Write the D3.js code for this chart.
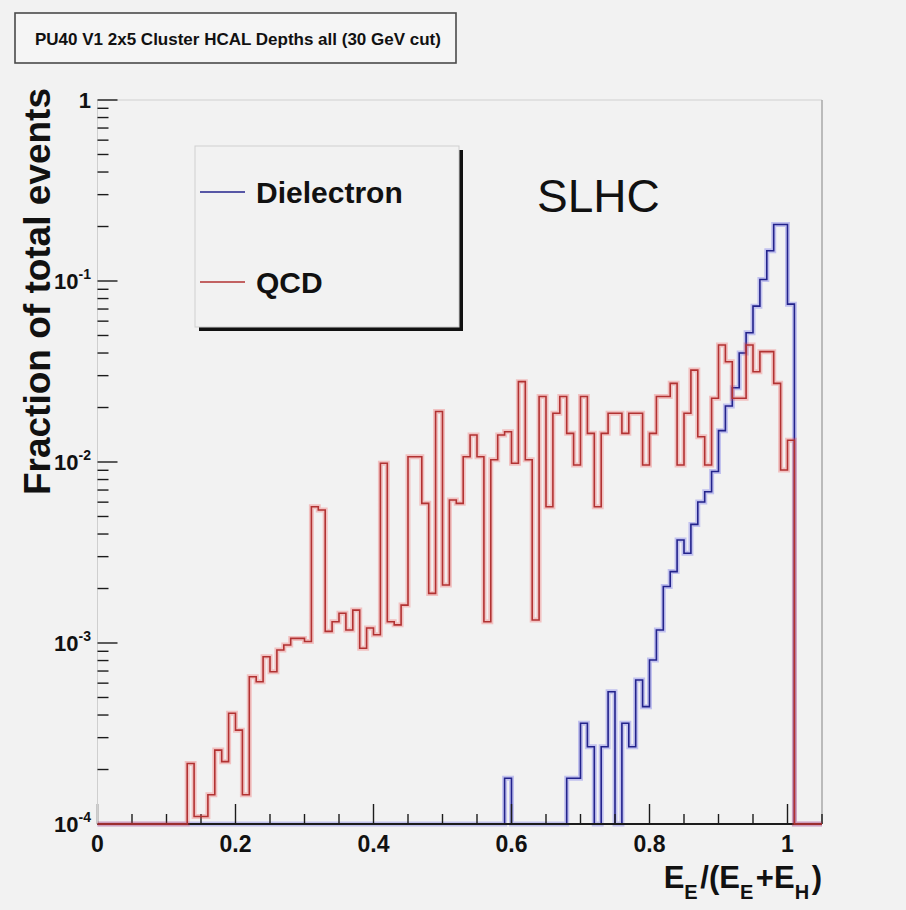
<!DOCTYPE html>
<html>
<head>
<meta charset="utf-8">
<script src="https://cdn.jsdelivr.net/npm/d3@7"></script>
<style>
  body { margin: 0; background: #f2f2f2; }
  svg text { font-family: "Liberation Sans", Arial, sans-serif; }
</style>
</head>
<body>
<div id="chart"></div>
<script>
// Histogram binning: 105 bins of 0.01 from 0 to 1.05
const binWidth = 0.01;
const nBins = 105;

// QCD fractions, first non-empty bin starts at 0.13
const qcdStart = 0.13;
const qcdValues = [
  2.16e-4, 1.10e-4, 1.10e-4, 1.45e-4, 2.56e-4, 2.21e-4, 4.09e-4, 3.30e-4, 1.45e-4, 6.51e-4,
  6.11e-4, 8.40e-4, 6.94e-4, 9.15e-4, 9.75e-4, 1.06e-3, 1.06e-3, 1.02e-3, 5.66e-3, 5.43e-3,
  1.16e-3, 1.31e-3, 1.46e-3, 1.18e-3, 1.52e-3, 9.35e-4, 1.21e-3, 1.11e-3, 9.84e-3, 1.31e-3,
  1.26e-3, 1.62e-3, 1.07e-2, 1.07e-2, 5.91e-3, 1.88e-3, 1.90e-2, 2.09e-3, 6.17e-3, 5.91e-3,
  1.07e-2, 1.41e-2, 1.07e-2, 1.31e-3, 1.03e-2, 1.41e-2, 1.47e-2, 9.84e-3, 2.78e-2, 1.03e-2,
  1.34e-3, 2.30e-2, 5.66e-3, 1.86e-2, 2.30e-2, 1.44e-2, 9.62e-3, 2.30e-2, 1.44e-2, 5.66e-3,
  1.44e-2, 1.86e-2, 1.86e-2, 1.44e-2, 1.86e-2, 1.86e-2, 9.62e-3, 1.44e-2, 2.30e-2, 2.30e-2,
  2.72e-2, 9.62e-3, 1.86e-2, 3.22e-2, 1.38e-2, 9.62e-3, 2.25e-2, 4.43e-2, 3.58e-2, 2.25e-2,
  2.25e-2, 4.43e-2, 3.15e-2, 4.07e-2, 4.07e-2, 2.72e-2, 9.03e-3, 1.32e-2
];

// Dielectron fractions, first non-empty bin starts at 0.59
const dielectronStart = 0.59;
const dielectronValues = [
  1.79e-4, 0, 0, 0, 0, 0, 0, 0, 0, 1.79e-4,
  1.79e-4, 3.60e-4, 2.67e-4, 0, 2.67e-4, 5.38e-4, 0, 3.60e-4, 2.67e-4, 6.25e-4,
  4.45e-4, 8.05e-4, 1.18e-3, 2.05e-3, 2.48e-3, 3.71e-3, 3.13e-3, 4.52e-3, 6.01e-3, 6.85e-3,
  8.87e-3, 1.49e-2, 2.04e-2, 2.57e-2, 4.00e-2, 5.18e-2, 7.26e-2, 0.102, 0.147, 0.205,
  0.205, 0.0745
];

// Axis ticks and labels
const xMajorTicks = [0, 0.2, 0.4, 0.6, 0.8, 1.0];
const xMinorTicks = [0.05, 0.1, 0.15, 0.25, 0.3, 0.35, 0.45, 0.5, 0.55, 0.65, 0.7, 0.75, 0.85, 0.9, 0.95, 1.05];
const xTickLabels = ["0", "0.2", "0.4", "0.6", "0.8", "1"];
const yDecades = [-4, -3, -2, -1, 0];
const yMinorMantissas = [2, 3, 4, 5, 6, 7, 8, 9];

const legendNames = ["Dielectron", "QCD"];
const colors = { Dielectron: "#23238c", QCD: "#b23232" };
const halos = { Dielectron: "rgba(70, 70, 230, 0.28)", QCD: "rgba(240, 70, 70, 0.28)" };

// Create the svg
const svg = d3.select("#chart")
  .append("svg")
  .attr("width", 906)
  .attr("height", 910);

svg.append("rect")
  .attr("width", 906)
  .attr("height", 910)
  .attr("fill", "#f2f2f2");

// Frame
const frame = { left: 97.5, right: 822, top: 100, bottom: 824 };

const x = d3.scaleLinear()
  .domain([0, nBins * binWidth])
  .range([frame.left, frame.right]);

const y = d3.scaleLog()
  .domain([1e-4, 1])
  .range([frame.bottom, frame.top])
  .clamp(true);

// Full histogram contents, zero outside the filled range
function fillHist(start, values) {
  const h = new Array(nBins).fill(0);
  const i0 = Math.round(start / binWidth);
  values.forEach((v, i) => { h[i0 + i] = v; });
  return h;
}

// Step outline: each bin gives a flat segment, empty bins sit on the frame bottom
function stepPoints(hist) {
  const pts = [];
  hist.forEach((v, i) => {
    pts.push([i * binWidth, v]);
    pts.push([(i + 1) * binWidth, v]);
  });
  return pts;
}

const line = d3.line()
  .x(d => x(d[0]))
  .y(d => y(Math.max(d[1], 1e-4)));

function drawHist(name, hist) {
  const g = svg.append("g");
  g.append("path")
    .attr("d", line(stepPoints(hist)))
    .attr("fill", "none")
    .attr("stroke", halos[name])
    .attr("stroke-width", 5);
  g.append("path")
    .attr("d", line(stepPoints(hist)))
    .attr("fill", "none")
    .attr("stroke", colors[name])
    .attr("stroke-width", 1.6);
}

// Frame border (light)
svg.append("line")
  .attr("x1", frame.left).attr("x2", frame.right)
  .attr("y1", frame.top).attr("y2", frame.top)
  .attr("stroke", "#d0d0d0").attr("stroke-width", 1);
svg.append("line")
  .attr("x1", frame.right).attr("x2", frame.right)
  .attr("y1", frame.top).attr("y2", frame.bottom)
  .attr("stroke", "#a8a8a8").attr("stroke-width", 1.5);

// Dielectron first, then the axes, then QCD on top
drawHist("Dielectron", fillHist(dielectronStart, dielectronValues));

// X axis
const axisColor = "#1c1c1c";
svg.append("line")
  .attr("x1", frame.left).attr("x2", frame.right)
  .attr("y1", frame.bottom).attr("y2", frame.bottom)
  .attr("stroke", axisColor).attr("stroke-width", 1.8);

svg.append("g").selectAll("line")
  .data(xMajorTicks)
  .enter()
  .append("line")
  .attr("x1", d => x(d)).attr("x2", d => x(d))
  .attr("y1", frame.bottom).attr("y2", frame.bottom - 20)
  .attr("stroke", axisColor).attr("stroke-width", 1.4);

svg.append("g").selectAll("line")
  .data(xMinorTicks)
  .enter()
  .append("line")
  .attr("x1", d => x(d)).attr("x2", d => x(d))
  .attr("y1", frame.bottom).attr("y2", frame.bottom - 10)
  .attr("stroke", axisColor).attr("stroke-width", 1.4);

svg.append("g").selectAll("text")
  .data(xMajorTicks)
  .enter()
  .append("text")
  .attr("x", d => x(d))
  .attr("y", 852)
  .attr("text-anchor", "middle")
  .attr("font-size", 23)
  .attr("font-weight", "bold")
  .attr("fill", "#111")
  .text((d, i) => xTickLabels[i]);

// Y axis
svg.append("line")
  .attr("x1", frame.left).attr("x2", frame.left)
  .attr("y1", frame.top).attr("y2", frame.bottom)
  .attr("stroke", "#cfcfcf").attr("stroke-width", 1);

svg.append("g").selectAll("line")
  .data(yDecades)
  .enter()
  .append("line")
  .attr("x1", frame.left).attr("x2", frame.left + 20)
  .attr("y1", d => y(Math.pow(10, d))).attr("y2", d => y(Math.pow(10, d)))
  .attr("stroke", axisColor).attr("stroke-width", 1.4);

const yMinor = [];
yDecades.slice(0, -1).forEach(d => {
  yMinorMantissas.forEach(m => yMinor.push(m * Math.pow(10, d)));
});

svg.append("g").selectAll("line")
  .data(yMinor)
  .enter()
  .append("line")
  .attr("x1", frame.left).attr("x2", frame.left + 11)
  .attr("y1", d => y(d)).attr("y2", d => y(d))
  .attr("stroke", axisColor).attr("stroke-width", 1.4);

const yLabels = svg.append("g").selectAll("text")
  .data(yDecades)
  .enter()
  .append("text")
  .attr("x", 91)
  .attr("y", d => y(Math.pow(10, d)) + 8)
  .attr("text-anchor", "end")
  .attr("font-size", 22)
  .attr("font-weight", "bold")
  .attr("fill", "#111");

yLabels.filter(d => d === 0).text("1");
yLabels.filter(d => d !== 0).each(function(d) {
  const t = d3.select(this);
  t.append("tspan").text("10");
  t.append("tspan")
    .attr("dy", -10)
    .attr("font-size", 14)
    .text(d);
});

// QCD on top
drawHist("QCD", fillHist(qcdStart, qcdValues));

// Axis titles
const xTitle = svg.append("text")
  .attr("x", frame.right)
  .attr("y", 888)
  .attr("text-anchor", "end")
  .attr("font-size", 31)
  .attr("font-weight", "bold")
  .attr("fill", "#111");
[["E", "E"], ["/(E", "E"], ["+E", "H"], [")", null]].forEach(([main, sub]) => {
  xTitle.append("tspan").attr("dy", sub === undefined ? 0 : 0).text(main);
  if (sub) {
    xTitle.append("tspan").attr("font-size", 20).attr("dy", 11).text(sub);
    xTitle.append("tspan").attr("dy", -11).text("\u200a");
  }
});

svg.append("text")
  .attr("transform", "translate(50, 88) rotate(-90)")
  .attr("text-anchor", "end")
  .attr("font-size", 37)
  .attr("font-weight", "bold")
  .attr("fill", "#111")
  .text("Fraction of total events");

// Title box
svg.append("rect")
  .attr("x", 15).attr("y", 13)
  .attr("width", 441).attr("height", 50)
  .attr("fill", "#f5f5f5")
  .attr("stroke", "#4a4a4a")
  .attr("stroke-width", 1.6);
svg.append("text")
  .attr("x", 35).attr("y", 45)
  .attr("font-size", 17)
  .attr("font-weight", "bold")
  .attr("fill", "#111")
  .text("PU40 V1 2x5 Cluster HCAL Depths all (30 GeV cut)");

// Legend with shadow
const legend = { x: 195, y: 146, w: 264, h: 181 };
svg.append("rect")
  .attr("x", legend.x + 4).attr("y", legend.y + 4)
  .attr("width", legend.w).attr("height", legend.h)
  .attr("fill", "#111");
svg.append("rect")
  .attr("x", legend.x).attr("y", legend.y)
  .attr("width", legend.w).attr("height", legend.h)
  .attr("fill", "#f2f2f2")
  .attr("stroke", "#cfcfcf")
  .attr("stroke-width", 1);

const legendRows = [192, 282];
legendNames.forEach((name, i) => {
  svg.append("line")
    .attr("x1", 200).attr("x2", 245)
    .attr("y1", legendRows[i]).attr("y2", legendRows[i])
    .attr("stroke", colors[name])
    .attr("stroke-width", 1.6);
  svg.append("text")
    .attr("x", 256)
    .attr("y", legendRows[i] + 11)
    .attr("font-size", 30)
    .attr("font-weight", "bold")
    .attr("fill", "#111")
    .text(name);
});

// SLHC label
svg.append("text")
  .attr("x", 537)
  .attr("y", 212)
  .attr("font-size", 46)
  .attr("fill", "#111")
  .text("SLHC");
</script>
</body>
</html>
